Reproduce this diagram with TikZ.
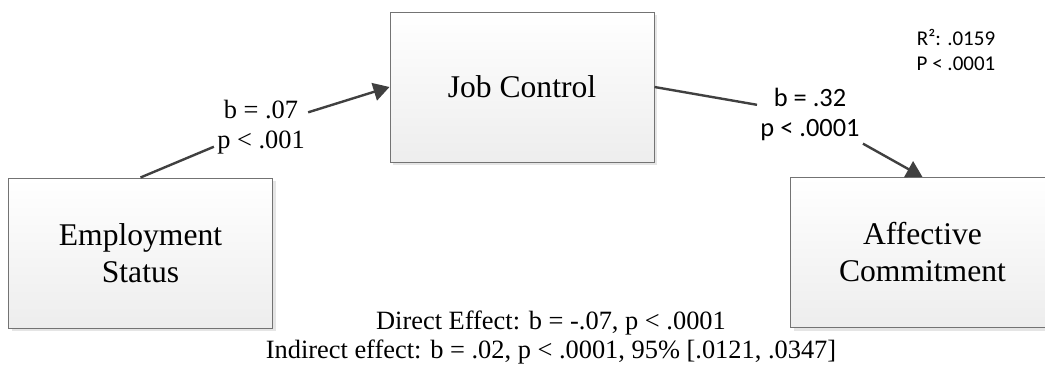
\documentclass[tikz,border=0pt]{standalone}
\usepackage{fontspec}
\setmainfont{Liberation Serif}
\newfontfamily\calfont{Carlito}
\usepackage{tikz}
\usetikzlibrary{arrows.meta,shadows}

\begin{document}
\begin{tikzpicture}[x=0.5pt, y=-0.5pt,
        varbox/.style={draw=black!55, line width=0.5pt, top color=white, bottom color=black!7,
            minimum width=132pt, minimum height=75pt, align=center,
            font=\fontsize{15.8}{18.5}\selectfont,
            drop shadow={shadow xshift=1.5pt, shadow yshift=-1.5pt, fill=black!10, opacity=1}},
        pathline/.style={draw=black!75, line width=1.2pt, -{Triangle[length=8pt, width=9pt]}},
        coef/.style={align=center, inner sep=1.5pt}]
        \useasboundingbox (0,0) rectangle (1045,370);

        \node[varbox] (emp) at (140.5,253) {Employment\\Status};
        \node[varbox] (jc) at (522,87) {Job Control};
        \node[varbox] (ac) at (922.5,252.5) {Affective\\Commitment};

        \node[coef, font=\fontsize{13.2}{15}\selectfont] (lblA) at (261,127) {b = .07\\p < .001};
        \node[coef, font=\calfont\fontsize{13.2}{15}\selectfont] (lblB) at (810,114) {b = .32\\p < .0001};

        \node[align=center, font=\calfont\fontsize{10.5}{12.5}\selectfont] (rsq) at (956,50) {R²: .0159\\P < .0001};

        \node[align=center, font=\fontsize{13.2}{14.5}\selectfont] (effects) at (551,337.5)
            {Direct Effect: b = -.07, p < .0001\\Indirect effect: b = .02, p < .0001, 95\% [.0121, .0347]};

        \draw[pathline] (emp.north) -- (lblA) -- (jc.west);
        \draw[pathline] (jc.east) -- (lblB) -- (ac.north);
    \end{tikzpicture}
\end{document}
